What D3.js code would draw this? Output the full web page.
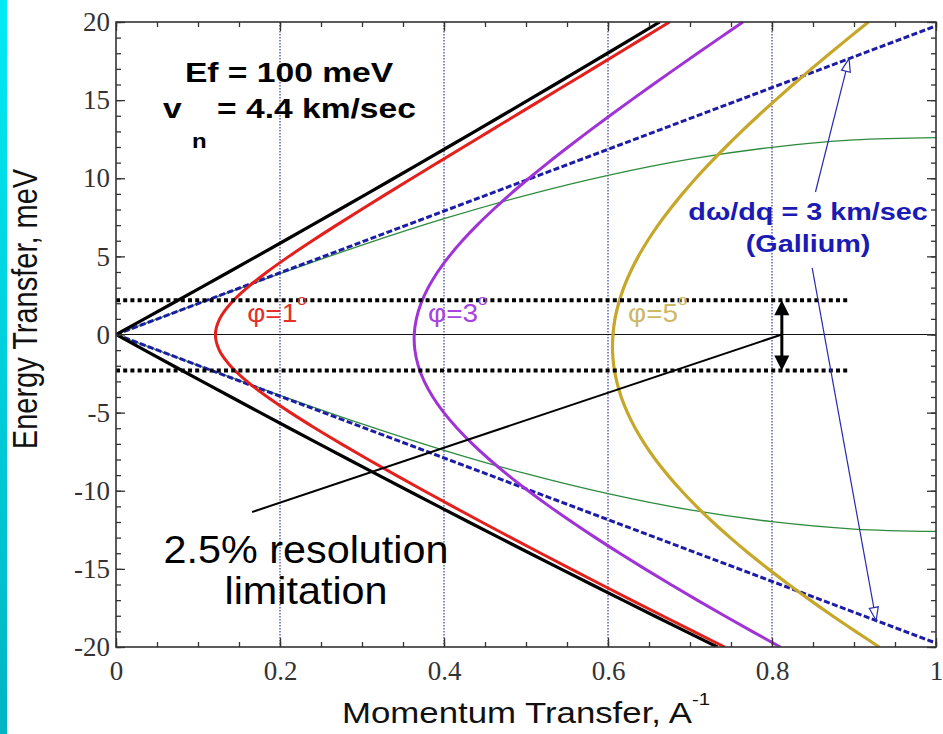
<!DOCTYPE html>
<html><head><meta charset="utf-8">
<script src="https://cdn.jsdelivr.net/npm/d3@7"></script>
<style>body{margin:0;background:#fff}svg{display:block}</style>
</head><body>
<svg id="c" width="943" height="734"></svg>
<script>
// ---- data ----
const energies = [-20,-19,-18,-17,-16,-15,-14,-13,-12,-11,-10,-9,-8,-7,-6,-5,-4,-3,-2,-1,0,1,2,3,4,5,6,7,8,9,10,11,12,13,14,15,16,17,18,19,20];
const qPhi0 = [0.7334,0.6947,0.6562,0.6180,0.5800,0.5422,0.5046,0.4673,0.4301,0.3932,0.3565,0.3200,0.2837,0.2476,0.2116,0.1759,0.1404,0.1050,0.0698,0.0348,0,0.0347,0.0691,0.1034,0.1376,0.1716,0.2054,0.2390,0.2725,0.3059,0.3391,0.3721,0.4050,0.4378,0.4704,0.5028,0.5352,0.5673,0.5994,0.6313,0.6631];
const qPhi1 = [0.7423,0.7042,0.6663,0.6287,0.5915,0.5546,0.5180,0.4817,0.4459,0.4105,0.3756,0.3412,0.3075,0.2747,0.2430,0.2128,0.1847,0.1597,0.1394,0.1259,0.1212,0.1264,0.1401,0.1601,0.1842,0.2109,0.2394,0.2690,0.2993,0.3300,0.3611,0.3924,0.4238,0.4553,0.4868,0.5183,0.5497,0.5812,0.6126,0.6439,0.6751];
const qPhi3 = [0.8101,0.7757,0.7419,0.7088,0.6765,0.6449,0.6143,0.5846,0.5560,0.5286,0.5026,0.4781,0.4554,0.4346,0.4160,0.3998,0.3864,0.3759,0.3686,0.3645,0.3637,0.3663,0.3720,0.3807,0.3922,0.4062,0.4223,0.4404,0.4602,0.4813,0.5037,0.5271,0.5514,0.5764,0.6021,0.6283,0.6549,0.6819,0.7092,0.7368,0.7646];
const qPhi5 = [0.9308,0.9018,0.8736,0.8465,0.8204,0.7954,0.7715,0.7490,0.7277,0.7079,0.6896,0.6729,0.6578,0.6446,0.6332,0.6237,0.6161,0.6106,0.6070,0.6055,0.6061,0.6085,0.6130,0.6192,0.6273,0.6370,0.6483,0.6611,0.6753,0.6907,0.7072,0.7249,0.7435,0.7629,0.7832,0.8042,0.8258,0.8480,0.8708,0.8940,0.9176];
const greenQ = [0,0.1,0.2,0.3,0.4,0.5,0.6,0.7,0.8,0.9,1.0];
const greenUpperE = [0,1.97,3.89,5.72,7.41,8.91,10.19,11.23,11.98,12.45,12.6];
const greenLowerE = [0,-1.97,-3.89,-5.72,-7.41,-8.91,-10.19,-11.23,-11.98,-12.45,-12.6];
const soundQ = [0,1];
const soundUpperE = [0,19.75];
const soundLowerE = [0,-19.75];
const xTicks = [0,0.2,0.4,0.6,0.8,1];
const xTickLabels = ["0","0.2","0.4","0.6","0.8","1"];
const yTicks = [-20,-15,-10,-5,0,5,10,15,20];
const yTickLabels = ["-20","-15","-10","-5","0","5","10","15","20"];
const gridQ = [0.2,0.4,0.6,0.8];
const resolutionE = [2.2,-2.3];
const resolutionQEnd = 0.893;
const arrowQ = 0.812;
const pointerLine = [[0.166,-11.36],[0.812,0]];
const galliumArrows = [[[0.853,9.12],[0.894,17.66]],[[0.849,4.26],[0.927,-18.3]]];
const phiLabels = [
  {q:0.160, e:0.8, num:"1", color:"#e2302a"},
  {q:0.3805, e:0.8, num:"3", color:"#a544e0"},
  {q:0.6244, e:0.8, num:"5", color:"#cdb868"}
];

// ---- scales ----
const svg = d3.select('#c');
const x = d3.scaleLinear().domain([0,1]).range([116,936]);
const y = d3.scaleLinear().domain([-20,20]).range([647,22]);
const sans = '"Liberation Sans", Arial, Helvetica, sans-serif';
const serif = '"Liberation Serif", "Times New Roman", serif';

// left cyan strip
const defs = svg.append('defs');
const grad = defs.append('linearGradient').attr('id','cy').attr('x1',0).attr('y1',0).attr('x2',0).attr('y2',1);
grad.append('stop').attr('offset','0%').attr('stop-color','#00eaf4');
grad.append('stop').attr('offset','100%').attr('stop-color','#00b4c4');
svg.append('rect').attr('x',0).attr('y',0).attr('width',7).attr('height',734).attr('fill','url(#cy)');

defs.append('clipPath').attr('id','plot').append('rect')
  .attr('x',x(0)).attr('y',y(20)).attr('width',x(1)-x(0)).attr('height',y(-20)-y(20));

// gridlines
svg.append('g').selectAll('line').data(gridQ).join('line')
  .attr('x1',d=>x(d)).attr('x2',d=>x(d)).attr('y1',y(20)).attr('y2',y(-20))
  .attr('stroke','#3a3aa0').attr('stroke-width',1.2).attr('stroke-dasharray','1.5,1.5');

// zero line
svg.append('line').attr('x1',x(0)).attr('x2',x(1)).attr('y1',y(0)).attr('y2',y(0))
  .attr('stroke','#111').attr('stroke-width',1.2);

const plot = svg.append('g').attr('clip-path','url(#plot)');
const line = d3.line().x(d=>x(d[0])).y(d=>y(d[1])).curve(d3.curveCatmullRom);
const lin = d3.line().x(d=>x(d[0])).y(d=>y(d[1]));

// green dispersion
[greenUpperE, greenLowerE].forEach(arr=>{
  plot.append('path').datum(greenQ.map((q,i)=>[q,arr[i]])).attr('d',line)
    .attr('fill','none').attr('stroke','#2e8b3e').attr('stroke-width',1.3);
});
// blue sound lines
[soundUpperE, soundLowerE].forEach(arr=>{
  plot.append('path').datum(soundQ.map((q,i)=>[q,arr[i]])).attr('d',lin)
    .attr('fill','none').attr('stroke','#1c1ca6').attr('stroke-width',3).attr('stroke-dasharray','6,2.5');
});
// kinematic curves
const curves = [
  {q:qPhi0, color:'#000000', w:3.2, gen:lin},
  {q:qPhi1, color:'#e4201c', w:3, gen:line},
  {q:qPhi3, color:'#a033d6', w:3, gen:line},
  {q:qPhi5, color:'#c6a72a', w:3.2, gen:line}
];
curves.forEach(c=>{
  plot.append('path').datum(energies.map((e,i)=>[c.q[i],e])).attr('d',c.gen)
    .attr('fill','none').attr('stroke',c.color).attr('stroke-width',c.w).attr('stroke-linejoin','round');
});

// resolution dotted lines
svg.append('g').selectAll('line').data(resolutionE).join('line')
  .attr('x1',x(0)).attr('x2',x(resolutionQEnd)).attr('y1',d=>y(d)).attr('y2',d=>y(d))
  .attr('stroke','#000').attr('stroke-width',4).attr('stroke-dasharray','4,3.2');

// double arrow
const ax = x(arrowQ), aTop = y(resolutionE[0]), aBot = y(resolutionE[1]);
svg.append('line').attr('x1',ax).attr('x2',ax).attr('y1',aTop+12).attr('y2',aBot-12)
  .attr('stroke','#000').attr('stroke-width',3);
svg.append('path').attr('d',`M${ax},${aTop}L${ax-7.5},${aTop+15}L${ax+7.5},${aTop+15}Z`).attr('fill','#000');
svg.append('path').attr('d',`M${ax},${aBot}L${ax-7.5},${aBot-15}L${ax+7.5},${aBot-15}Z`).attr('fill','#000');

// pointer line
svg.append('path').datum(pointerLine).attr('d',lin).attr('stroke','#000').attr('stroke-width',2).attr('fill','none');

// gallium arrows
galliumArrows.forEach(seg=>{
  const [p0,p1] = seg;
  const X0=x(p0[0]),Y0=y(p0[1]),X1=x(p1[0]),Y1=y(p1[1]);
  const dx=X1-X0, dy=Y1-Y0, L=Math.hypot(dx,dy), ux=dx/L, uy=dy/L;
  const bx=X1-ux*13, by=Y1-uy*13, nx=-uy, ny=ux;
  svg.append('line').attr('x1',X0).attr('y1',Y0).attr('x2',bx).attr('y2',by)
    .attr('stroke','#2a2ab0').attr('stroke-width',1.2);
  svg.append('path').attr('d',`M${X1},${Y1}L${bx+nx*4.5},${by+ny*4.5}L${bx-nx*4.5},${by-ny*4.5}Z`)
    .attr('fill','#fff').attr('stroke','#2a2ab0').attr('stroke-width',1.2);
});

// axes
function styleAxis(g){
  g.select('.domain').remove();
  g.selectAll('line').attr('stroke','#333').attr('stroke-width',1.3);
  g.selectAll('text').attr('font-family',serif).attr('font-size',27).attr('fill','#333');
}
const xMinor = d3.range(0,1.0001,0.05);
const yMinor = d3.range(-20,20.001,1);
svg.append('g').attr('transform',`translate(0,${y(-20)})`).call(d3.axisBottom(x).tickValues(xMinor).tickSize(-5).tickFormat('')).call(styleAxis);
svg.append('g').attr('transform',`translate(0,${y(-20)})`).call(d3.axisBottom(x).tickValues(xTicks).tickSize(-9).tickPadding(14).tickFormat((d,i)=>xTickLabels[i])).call(styleAxis);
svg.append('g').attr('transform',`translate(0,${y(20)})`).call(d3.axisTop(x).tickValues(xMinor).tickSize(-5).tickFormat('')).call(styleAxis);
svg.append('g').attr('transform',`translate(0,${y(20)})`).call(d3.axisTop(x).tickValues(xTicks).tickSize(-9).tickFormat('')).call(styleAxis);
svg.append('g').attr('transform',`translate(${x(0)},0)`).call(d3.axisLeft(y).tickValues(yMinor).tickSize(-5).tickFormat('')).call(styleAxis);
svg.append('g').attr('transform',`translate(${x(0)},0)`).call(d3.axisLeft(y).tickValues(yTicks).tickSize(-9).tickPadding(6).tickFormat((d,i)=>yTickLabels[i])).call(styleAxis);
svg.append('g').attr('transform',`translate(${x(1)},0)`).call(d3.axisRight(y).tickValues(yMinor).tickSize(-5).tickFormat('')).call(styleAxis);
svg.append('g').attr('transform',`translate(${x(1)},0)`).call(d3.axisRight(y).tickValues(yTicks).tickSize(-9).tickFormat('')).call(styleAxis);

// frame
svg.append('rect').attr('x',x(0)).attr('y',y(20)).attr('width',x(1)-x(0)).attr('height',y(-20)-y(20))
  .attr('fill','none').attr('stroke','#333').attr('stroke-width',1.6);

// text helper (horizontally stretched like the original)
function stext(px,py,str,o){
  o = Object.assign({size:24,weight:'normal',fill:'#000',family:sans,sx:1.2,anchor:'start'},o||{});
  return svg.append('text').attr('transform',`translate(${px},${py}) scale(${o.sx},1)`)
    .attr('font-family',o.family).attr('font-size',o.size).attr('font-weight',o.weight)
    .attr('fill',o.fill).attr('text-anchor',o.anchor).text(str);
}

// header texts
stext(x(0.0841), y(16.16), 'Ef = 100 meV', {size:28, weight:'bold'});
stext(x(0.0573), y(13.86), 'v', {size:28, weight:'bold'});
stext(x(0.0927), y(11.94), 'n', {size:20, weight:'bold'});
stext(x(0.1232), y(13.86), '= 4.4 km/sec', {size:28, weight:'bold'});

// phi labels
phiLabels.forEach(p=>{
  const t = stext(x(p.q), y(p.e), '', {size:25, fill:p.color, sx:1.12});
  t.append('tspan').text('\u03C6=' + p.num);
  t.append('tspan').attr('font-size',15).attr('dy',-17).text('o');
});

// gallium text
stext(x(0.844), y(7.33), 'd\u03C9/dq = 3 km/sec', {size:24, weight:'bold', fill:'#1a1ab4', anchor:'middle'});
stext(x(0.844), y(5.28), '(Gallium)', {size:24, weight:'bold', fill:'#1a1ab4', anchor:'middle'});

// resolution text
stext(x(0.2317), y(-14.6), '2.5% resolution', {size:39, sx:1.06, anchor:'middle', fill:'#000'});
stext(x(0.2317), y(-17.22), 'limitation', {size:39, sx:1.06, anchor:'middle', fill:'#000'});

// axis titles
const xt = stext(342, 723, 'Momentum Transfer, A', {size:29, fill:'#111'});
xt.append('tspan').attr('font-size',17).attr('dy',-18).text('-1');
svg.append('text').attr('transform','translate(37,309) scale(1.2,1) rotate(-90)')
  .attr('font-family',sans).attr('font-size',29).attr('fill','#111').attr('text-anchor','middle')
  .text('Energy Transfer, meV');
</script>
</body></html>
